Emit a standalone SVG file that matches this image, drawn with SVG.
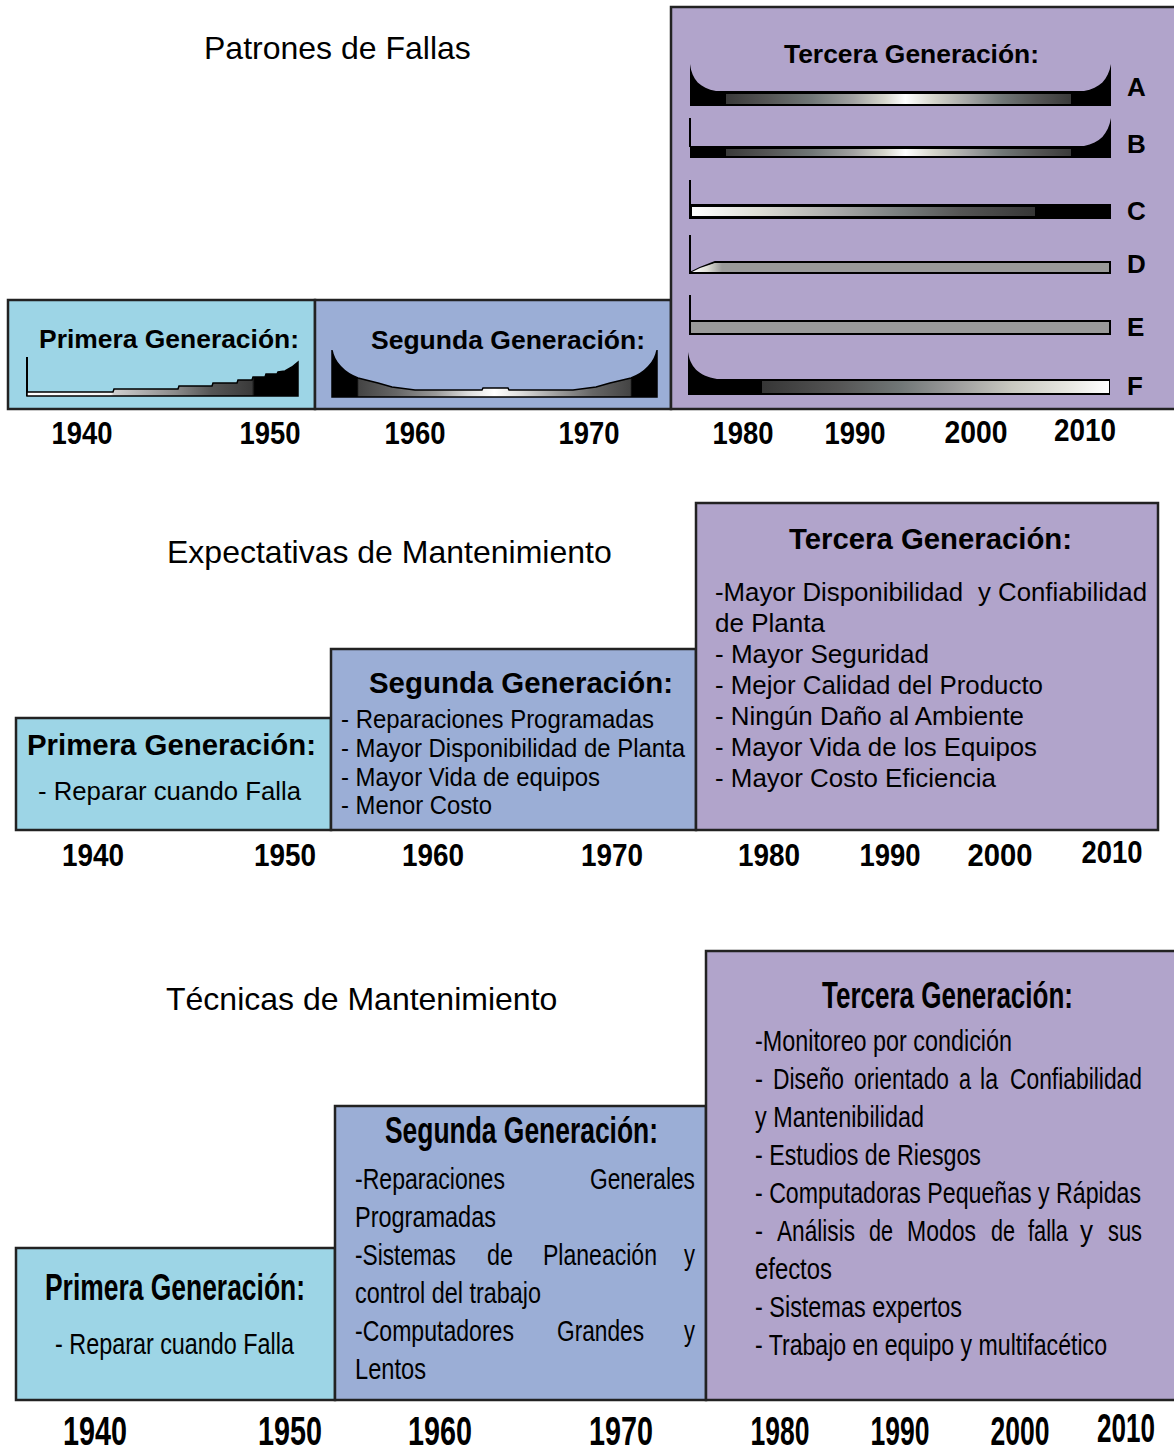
<svg xmlns="http://www.w3.org/2000/svg" width="1174" height="1454" viewBox="0 0 1174 1454">
<style>
text{font-family:"Liberation Sans",Arial,sans-serif;fill:#000}
.title{font-size:32px}
.h1{font-size:26px;font-weight:bold}
.h2{font-size:29px;font-weight:bold}
.h3{font-size:26.2px;font-weight:bold}
.i2{font-size:25px}
.i2t{font-size:26px}
.i3{font-size:23px}
.yr1{font-size:31px;font-weight:bold;text-anchor:middle}
.yr3{font-size:27.5px;font-weight:bold;text-anchor:middle}
.lt{font-size:26px;font-weight:bold}
.p1{fill:#9dd5e6;stroke:#222;stroke-width:2.5}
.p2{fill:#9baed6;stroke:#222;stroke-width:2.5}
.p3{fill:#b1a4cb;stroke:#222;stroke-width:2.5}
.ln{stroke:#000;stroke-width:2;fill:none}
.bar{stroke:#000;stroke-width:2}
</style>
<defs>
<linearGradient id="gAB" x1="0" x2="1" y1="0" y2="0">
<stop offset="0" stop-color="#3a3a3a"/><stop offset="0.12" stop-color="#555"/><stop offset="0.25" stop-color="#717777"/><stop offset="0.37" stop-color="#a2a2a2"/><stop offset="0.46" stop-color="#d6d6cc"/><stop offset="0.52" stop-color="#fff"/><stop offset="0.6" stop-color="#d6d6cc"/><stop offset="0.7" stop-color="#a6a6a6"/><stop offset="0.8" stop-color="#717777"/><stop offset="0.9" stop-color="#555"/><stop offset="1" stop-color="#3a3a3a"/>
</linearGradient>
<linearGradient id="gC" x1="0" x2="1" y1="0" y2="0">
<stop offset="0" stop-color="#fff"/><stop offset="0.2" stop-color="#dcdcd4"/><stop offset="0.42" stop-color="#aaa"/><stop offset="0.6" stop-color="#7a7f7f"/><stop offset="0.78" stop-color="#555"/><stop offset="1" stop-color="#363636"/>
</linearGradient>
<linearGradient id="gF" x1="0" x2="1" y1="0" y2="0">
<stop offset="0" stop-color="#363636"/><stop offset="0.22" stop-color="#555"/><stop offset="0.4" stop-color="#717777"/><stop offset="0.55" stop-color="#9a9a9a"/><stop offset="0.72" stop-color="#c8c8c0"/><stop offset="0.88" stop-color="#e6e6e0"/><stop offset="1" stop-color="#fff"/>
</linearGradient>
<linearGradient id="gD" x1="0" x2="1" y1="0" y2="0">
<stop offset="0" stop-color="#fff"/><stop offset="0.5" stop-color="#e0e0d8"/><stop offset="1" stop-color="#9a9a9a"/>
</linearGradient>
<linearGradient id="gP1" gradientUnits="userSpaceOnUse" x1="27" x2="298" y1="0" y2="0">
<stop offset="0" stop-color="#fff"/><stop offset="0.31" stop-color="#f4f4f4"/><stop offset="0.32" stop-color="#cfcfcf"/><stop offset="0.55" stop-color="#8a8a8a"/><stop offset="0.68" stop-color="#555"/><stop offset="0.83" stop-color="#3a3a3a"/><stop offset="0.84" stop-color="#000"/><stop offset="1" stop-color="#000"/>
</linearGradient>
<linearGradient id="gP2" gradientUnits="userSpaceOnUse" x1="331" x2="658" y1="0" y2="0">
<stop offset="0" stop-color="#000"/><stop offset="0.08" stop-color="#000"/><stop offset="0.085" stop-color="#444"/><stop offset="0.2" stop-color="#666"/><stop offset="0.32" stop-color="#999"/><stop offset="0.42" stop-color="#ddd"/><stop offset="0.5" stop-color="#fff"/><stop offset="0.58" stop-color="#ddd"/><stop offset="0.7" stop-color="#999"/><stop offset="0.8" stop-color="#666"/><stop offset="0.915" stop-color="#444"/><stop offset="0.92" stop-color="#000"/><stop offset="1" stop-color="#000"/>
</linearGradient>
</defs>
<rect width="1174" height="1454" fill="#fff"/>

<!-- Section 1: Patrones de Fallas -->
<text class="title" x="204" y="59">Patrones de Fallas</text>
<g id="s1-primera">
<rect class="p1" x="8" y="300" width="307" height="109"/>
<text class="h1" x="39" y="348" textLength="260" lengthAdjust="spacingAndGlyphs">Primera Generación:</text>
<line class="ln" x1="27" y1="357" x2="27" y2="396" stroke-width="1.5"/>
<path d="M27,396 L27,392 L113,392 L114,389 L178,389 L179,386 L212,386 L213,383 L237,383 L238,380 L252,380 L253,377 L265,377 L266,374 L277,374 L278,372 L285,371 L292,367 L298,362 L298,396 Z" fill="url(#gP1)" stroke="#000" stroke-width="1.5"/>
</g>
<g id="s1-segunda">
<rect class="p2" x="315" y="300" width="356" height="109"/>
<text class="h1" x="371" y="349" textLength="274" lengthAdjust="spacingAndGlyphs">Segunda Generación:</text>
<path d="M332,397 L332,350 C334,362 344,373 358,378 L378,383 L392,387 L415,390 L482,390 L483,388 L508,388 L509,390 L573,390 L596,387 L610,383 L631,378 C645,373 655,362 657,350 L657,397 Z" fill="url(#gP2)" stroke="#000" stroke-width="1.5"/>
</g>
<g id="s1-tercera">
<rect class="p3" x="671" y="7" width="520" height="402"/>
<text class="h1" x="784" y="63" textLength="255" lengthAdjust="spacingAndGlyphs">Tercera Generación:</text>
<path d="M690,106 L690,64 C692,80 700,88 716,91 L1084,91 C1100,88 1108,80 1111,64 L1111,106 Z" fill="#000"/>
<rect x="726" y="94" width="345" height="10" fill="url(#gAB)"/>
<text class="lt" x="1127" y="96">A</text>
<line class="ln" x1="690" y1="118" x2="690" y2="147"/>
<path d="M690,158 L690,146 L1084,146 C1100,143 1108,134 1111,118 L1111,158 Z" fill="#000"/>
<rect x="726" y="149" width="345" height="7" fill="url(#gAB)"/>
<text class="lt" x="1127" y="153">B</text>
<line class="ln" x1="690" y1="180" x2="690" y2="206"/>
<rect class="bar" x="690" y="205" width="420" height="13" fill="#000"/>
<rect x="692" y="207" width="343" height="9" fill="url(#gC)"/>
<text class="lt" x="1127" y="220">C</text>
<line class="ln" x1="690" y1="235" x2="690" y2="274"/>
<path d="M690,273 L700,268 L715,262 L1110,262 L1110,273 Z" fill="#9a9a9a" stroke="#000" stroke-width="2"/>
<path d="M692,272 L700,268 L715,263 L722,263 L722,272 Z" fill="url(#gD)"/>
<text class="lt" x="1127" y="273">D</text>
<line class="ln" x1="690" y1="295" x2="690" y2="334"/>
<rect class="bar" x="690" y="321" width="420" height="13" fill="#9a9a9a"/>
<text class="lt" x="1127" y="336">E</text>
<path d="M688,395 L688,352 C690,366 698,376 717,379 L1110,379 L1110,395 Z" fill="#000"/>
<rect x="762" y="381" width="347" height="12" fill="url(#gF)"/>
<text class="lt" x="1127" y="395">F</text>
</g>
<g id="s1-years">
<text class="yr1" x="82" y="444" textLength="61" lengthAdjust="spacingAndGlyphs">1940</text>
<text class="yr1" x="270" y="444" textLength="61" lengthAdjust="spacingAndGlyphs">1950</text>
<text class="yr1" x="415" y="444" textLength="61" lengthAdjust="spacingAndGlyphs">1960</text>
<text class="yr1" x="589" y="444" textLength="61" lengthAdjust="spacingAndGlyphs">1970</text>
<text class="yr1" x="743" y="444" textLength="61" lengthAdjust="spacingAndGlyphs">1980</text>
<text class="yr1" x="855" y="444" textLength="61" lengthAdjust="spacingAndGlyphs">1990</text>
<text class="yr1" x="976" y="443" textLength="63" lengthAdjust="spacingAndGlyphs">2000</text>
<text class="yr1" x="1085" y="441" textLength="62" lengthAdjust="spacingAndGlyphs">2010</text>
</g>

<!-- Section 2: Expectativas de Mantenimiento -->
<text class="title" x="167" y="563">Expectativas de Mantenimiento</text>
<g id="s2-primera">
<rect class="p1" x="16" y="718" width="315" height="112"/>
<text class="h2" x="27" y="755" textLength="289" lengthAdjust="spacingAndGlyphs">Primera Generación:</text>
<text class="i2" x="38" y="800" textLength="263" lengthAdjust="spacingAndGlyphs">- Reparar cuando Falla</text>
</g>
<g id="s2-segunda">
<rect class="p2" x="331" y="649" width="365" height="181"/>
<text class="h2" x="369" y="693" textLength="304" lengthAdjust="spacingAndGlyphs">Segunda Generación:</text>
<text class="i2" x="341" y="728" textLength="313" lengthAdjust="spacingAndGlyphs">- Reparaciones Programadas</text>
<text class="i2" x="341" y="757" textLength="344" lengthAdjust="spacingAndGlyphs">- Mayor Disponibilidad de Planta</text>
<text class="i2" x="341" y="786" textLength="259" lengthAdjust="spacingAndGlyphs">- Mayor Vida de equipos</text>
<text class="i2" x="341" y="814" textLength="151" lengthAdjust="spacingAndGlyphs">- Menor Costo</text>
</g>
<g id="s2-tercera">
<rect class="p3" x="696" y="503" width="462" height="327"/>
<text class="h2" x="789" y="549" textLength="283" lengthAdjust="spacingAndGlyphs">Tercera Generación:</text>
<text class="i2t" x="715" y="601" textLength="248" lengthAdjust="spacingAndGlyphs">-Mayor Disponibilidad</text>
<text class="i2t" x="978" y="601" textLength="169" lengthAdjust="spacingAndGlyphs">y Confiabilidad</text>
<text class="i2t" x="715" y="632" textLength="110" lengthAdjust="spacingAndGlyphs">de Planta</text>
<text class="i2t" x="715" y="663" textLength="214" lengthAdjust="spacingAndGlyphs">- Mayor Seguridad</text>
<text class="i2t" x="715" y="694" textLength="328" lengthAdjust="spacingAndGlyphs">- Mejor Calidad del Producto</text>
<text class="i2t" x="715" y="725" textLength="309" lengthAdjust="spacingAndGlyphs">- Ningún Daño al Ambiente</text>
<text class="i2t" x="715" y="756" textLength="322" lengthAdjust="spacingAndGlyphs">- Mayor Vida de los Equipos</text>
<text class="i2t" x="715" y="787" textLength="281" lengthAdjust="spacingAndGlyphs">- Mayor Costo Eficiencia</text>
</g>
<g id="s2-years">
<text class="yr1" x="93" y="866" textLength="62" lengthAdjust="spacingAndGlyphs">1940</text>
<text class="yr1" x="285" y="866" textLength="62" lengthAdjust="spacingAndGlyphs">1950</text>
<text class="yr1" x="433" y="866" textLength="62" lengthAdjust="spacingAndGlyphs">1960</text>
<text class="yr1" x="612" y="866" textLength="62" lengthAdjust="spacingAndGlyphs">1970</text>
<text class="yr1" x="769" y="866" textLength="62" lengthAdjust="spacingAndGlyphs">1980</text>
<text class="yr1" x="890" y="866" textLength="61" lengthAdjust="spacingAndGlyphs">1990</text>
<text class="yr1" x="1000" y="866" textLength="65" lengthAdjust="spacingAndGlyphs">2000</text>
<text class="yr1" x="1112" y="863" textLength="61" lengthAdjust="spacingAndGlyphs">2010</text>
</g>

<!-- Section 3: Técnicas de Mantenimiento -->
<text class="title" x="166" y="1010">Técnicas de Mantenimiento</text>
<g id="s3-primera">
<rect class="p1" x="16" y="1248" width="319" height="152"/>
<text class="h3" x="45" y="1300" transform="matrix(1 0 0 1.4 0 -520)" textLength="260" lengthAdjust="spacingAndGlyphs">Primera Generación:</text>
<text class="i3" x="55" y="1354" transform="matrix(1 0 0 1.26 0 -352.04)" textLength="239" lengthAdjust="spacingAndGlyphs">- Reparar cuando Falla</text>
</g>
<g id="s3-segunda">
<rect class="p2" x="335" y="1106" width="371" height="294"/>
<text class="h3" x="385" y="1143" transform="matrix(1 0 0 1.4 0 -457.2)" textLength="273" lengthAdjust="spacingAndGlyphs">Segunda Generación:</text>
<g transform="matrix(1 0 0 1.26 0 -309.14)">
<text class="i3" x="355" y="1189" textLength="150" lengthAdjust="spacingAndGlyphs">-Reparaciones</text>
<text class="i3" x="590" y="1189" textLength="105" lengthAdjust="spacingAndGlyphs">Generales</text>
</g>
<text class="i3" x="355" y="1227" transform="matrix(1 0 0 1.26 0 -319.02)" textLength="141" lengthAdjust="spacingAndGlyphs">Programadas</text>
<g transform="matrix(1 0 0 1.26 0 -328.9)">
<text class="i3" x="355" y="1265" textLength="101" lengthAdjust="spacingAndGlyphs">-Sistemas</text>
<text class="i3" x="487" y="1265" textLength="26" lengthAdjust="spacingAndGlyphs">de</text>
<text class="i3" x="543" y="1265" textLength="114" lengthAdjust="spacingAndGlyphs">Planeación</text>
<text class="i3" x="684" y="1265" textLength="11" lengthAdjust="spacingAndGlyphs">y</text>
</g>
<text class="i3" x="355" y="1303" transform="matrix(1 0 0 1.26 0 -338.78)" textLength="186" lengthAdjust="spacingAndGlyphs">control del trabajo</text>
<g transform="matrix(1 0 0 1.26 0 -348.66)">
<text class="i3" x="355" y="1341" textLength="159" lengthAdjust="spacingAndGlyphs">-Computadores</text>
<text class="i3" x="557" y="1341" textLength="87" lengthAdjust="spacingAndGlyphs">Grandes</text>
<text class="i3" x="684" y="1341" textLength="11" lengthAdjust="spacingAndGlyphs">y</text>
</g>
<text class="i3" x="355" y="1379" transform="matrix(1 0 0 1.26 0 -358.54)" textLength="71" lengthAdjust="spacingAndGlyphs">Lentos</text>
</g>
<g id="s3-tercera">
<rect class="p3" x="706" y="951" width="480" height="449"/>
<text class="h3" x="822" y="1008" transform="matrix(1 0 0 1.4 0 -403.2)" textLength="251" lengthAdjust="spacingAndGlyphs">Tercera Generación:</text>
<text class="i3" x="755" y="1051" transform="matrix(1 0 0 1.26 0 -273.26)" textLength="257" lengthAdjust="spacingAndGlyphs">-Monitoreo por condición</text>
<g transform="matrix(1 0 0 1.26 0 -283.14)">
<text class="i3" x="755" y="1089" textLength="8" lengthAdjust="spacingAndGlyphs">-</text>
<text class="i3" x="773" y="1089" textLength="71" lengthAdjust="spacingAndGlyphs">Diseño</text>
<text class="i3" x="854" y="1089" textLength="95" lengthAdjust="spacingAndGlyphs">orientado</text>
<text class="i3" x="959" y="1089" textLength="12" lengthAdjust="spacingAndGlyphs">a</text>
<text class="i3" x="980" y="1089" textLength="18" lengthAdjust="spacingAndGlyphs">la</text>
<text class="i3" x="1010" y="1089" textLength="132" lengthAdjust="spacingAndGlyphs">Confiabilidad</text>
</g>
<text class="i3" x="755" y="1127" transform="matrix(1 0 0 1.26 0 -293.02)" textLength="169" lengthAdjust="spacingAndGlyphs">y Mantenibilidad</text>
<text class="i3" x="755" y="1165" transform="matrix(1 0 0 1.26 0 -302.9)" textLength="226" lengthAdjust="spacingAndGlyphs">- Estudios de Riesgos</text>
<text class="i3" x="755" y="1203" transform="matrix(1 0 0 1.26 0 -312.78)" textLength="386" lengthAdjust="spacingAndGlyphs">- Computadoras Pequeñas y Rápidas</text>
<g transform="matrix(1 0 0 1.26 0 -322.66)">
<text class="i3" x="755" y="1241" textLength="8" lengthAdjust="spacingAndGlyphs">-</text>
<text class="i3" x="777" y="1241" textLength="78" lengthAdjust="spacingAndGlyphs">Análisis</text>
<text class="i3" x="869" y="1241" textLength="24" lengthAdjust="spacingAndGlyphs">de</text>
<text class="i3" x="907" y="1241" textLength="69" lengthAdjust="spacingAndGlyphs">Modos</text>
<text class="i3" x="991" y="1241" textLength="24" lengthAdjust="spacingAndGlyphs">de</text>
<text class="i3" x="1028" y="1241" textLength="40" lengthAdjust="spacingAndGlyphs">falla</text>
<text class="i3" x="1080" y="1241" textLength="13" lengthAdjust="spacingAndGlyphs">y</text>
<text class="i3" x="1108" y="1241" textLength="34" lengthAdjust="spacingAndGlyphs">sus</text>
</g>
<text class="i3" x="755" y="1279" transform="matrix(1 0 0 1.26 0 -332.54)" textLength="77" lengthAdjust="spacingAndGlyphs">efectos</text>
<text class="i3" x="755" y="1317" transform="matrix(1 0 0 1.26 0 -342.42)" textLength="207" lengthAdjust="spacingAndGlyphs">- Sistemas expertos</text>
<text class="i3" x="755" y="1355" transform="matrix(1 0 0 1.26 0 -352.3)" textLength="352" lengthAdjust="spacingAndGlyphs">- Trabajo en equipo y multifacético</text>
</g>
<g id="s3-years">
<g transform="matrix(1 0 0 1.45 0 -650.25)">
<text class="yr3" x="95" y="1445" textLength="64" lengthAdjust="spacingAndGlyphs">1940</text>
<text class="yr3" x="290" y="1445" textLength="64" lengthAdjust="spacingAndGlyphs">1950</text>
<text class="yr3" x="440" y="1445" textLength="64" lengthAdjust="spacingAndGlyphs">1960</text>
<text class="yr3" x="621" y="1445" textLength="64" lengthAdjust="spacingAndGlyphs">1970</text>
<text class="yr3" x="780" y="1445" textLength="59" lengthAdjust="spacingAndGlyphs">1980</text>
<text class="yr3" x="900" y="1445" textLength="59" lengthAdjust="spacingAndGlyphs">1990</text>
<text class="yr3" x="1020" y="1445" textLength="59" lengthAdjust="spacingAndGlyphs">2000</text>
</g>
<text class="yr3" x="1126" y="1442" transform="matrix(1 0 0 1.45 0 -648.9)" textLength="58" lengthAdjust="spacingAndGlyphs">2010</text>
</g>
<g id="connectors"/>
</svg>
